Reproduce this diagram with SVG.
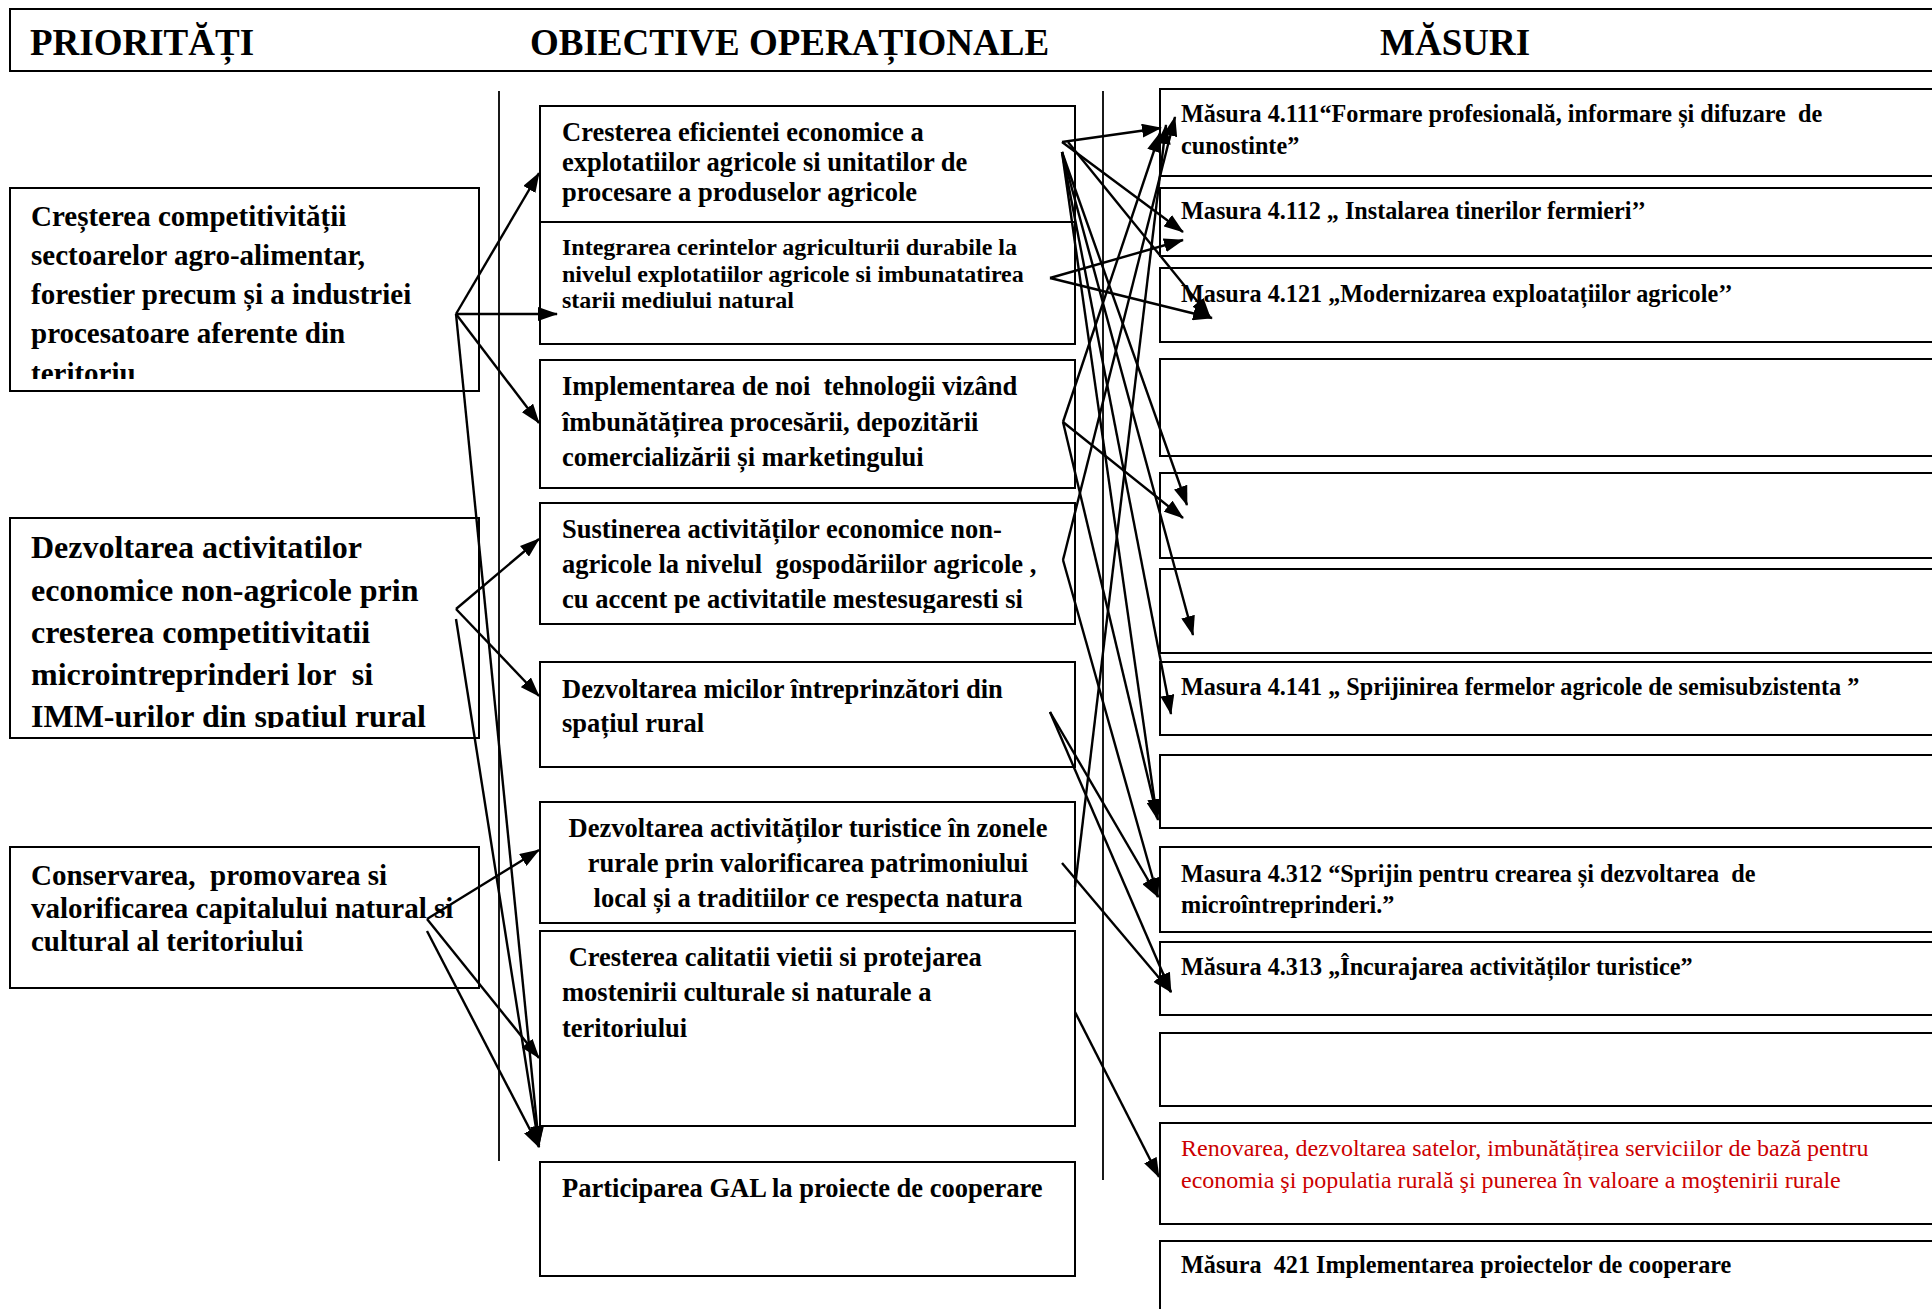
<svg xmlns="http://www.w3.org/2000/svg" width="1932" height="1309" viewBox="0 0 1932 1309">
<style>
.box{fill:#fff;stroke:#000;stroke-width:2}
.div{stroke:#000;stroke-width:1.8;fill:none}
text{font-family:"Liberation Serif","Times New Roman",serif;font-weight:bold;fill:#000;white-space:pre}
.hd{font-size:37px}
.pa{font-size:29px}
.pb{font-size:32px}
.m{font-size:26.5px}
.ms{font-size:24px}
.r{font-size:24.2px}
.red{font-size:24px;font-weight:normal;fill:#cc0000}
#connectors line{stroke:#000;stroke-width:2.4;marker-end:url(#ah)}
</style>
<defs>
<marker id="ah" markerWidth="20" markerHeight="14" refX="19" refY="7" orient="auto" markerUnits="userSpaceOnUse"><path d="M0,0 L20,7 L0,14 z" fill="#000"/></marker>
<clipPath id="cP1"><rect x="10" y="188" width="470" height="191"/></clipPath>
<clipPath id="cP2"><rect x="10" y="518" width="470" height="210"/></clipPath>
<clipPath id="cM4"><rect x="540" y="503" width="536" height="110"/></clipPath>
</defs>
<rect width="1932" height="1309" fill="#fff"/>

<g id="header">
<rect class="box" x="10" y="9" width="1940" height="62"/>
<text class="hd" x="30" y="55">PRIORITĂȚI</text>
<text class="hd" x="530" y="55">OBIECTIVE OPERAȚIONALE</text>
<text class="hd" x="1380" y="55">MĂSURI</text>
</g>

<g id="dividers">
<line class="div" x1="499" y1="91" x2="499" y2="1161"/>
<line class="div" x1="1103" y1="91" x2="1103" y2="1180"/>
</g>

<g id="p1">
<rect class="box" x="10" y="188" width="469" height="203"/>
<g clip-path="url(#cP1)">
<text class="pa" x="31" y="226">Creșterea competitivității</text>
<text class="pa" x="31" y="265">sectoarelor agro-alimentar,</text>
<text class="pa" x="31" y="304">forestier precum și a industriei</text>
<text class="pa" x="31" y="343">procesatoare aferente din</text>
<text class="pa" x="31" y="383">teritoriu</text>
</g>
</g>
<g id="p2">
<rect class="box" x="10" y="518" width="469" height="220"/>
<g clip-path="url(#cP2)">
<text class="pb" x="31" y="558">Dezvoltarea activitatilor</text>
<text class="pb" x="31" y="601">economice non-agricole prin</text>
<text class="pb" x="31" y="643">cresterea competitivitatii</text>
<text class="pb" x="31" y="685">microintreprinderi lor  si</text>
<text class="pb" x="31" y="727">IMM-urilor din spatiul rural</text>
</g>
</g>
<g id="p3">
<rect class="box" x="10" y="847" width="469" height="141"/>
<text class="pa" x="31" y="885">Conservarea,  promovarea si</text>
<text class="pa" x="31" y="918">valorificarea capitalului natural si</text>
<text class="pa" x="31" y="951">cultural al teritoriului</text>
</g>

<g id="m1">
<rect class="box" x="540" y="106" width="535" height="116"/>
<text class="m" x="562" y="141">Cresterea eficientei economice a</text>
<text class="m" x="562" y="171">explotatiilor agricole si unitatilor de</text>
<text class="m" x="562" y="201">procesare a produselor agricole</text>
</g>
<g id="m2">
<rect class="box" x="540" y="222" width="535" height="122"/>
<text class="ms" x="562" y="255">Integrarea cerintelor agriculturii durabile la</text>
<text class="ms" x="562" y="282">nivelul explotatiilor agricole si imbunatatirea</text>
<text class="ms" x="562" y="308">starii mediului natural</text>
</g>
<g id="m3">
<rect class="box" x="540" y="360" width="535" height="128"/>
<text class="m" x="562" y="395">Implementarea de noi  tehnologii vizând</text>
<text class="m" x="562" y="431">îmbunătățirea procesării, depozitării</text>
<text class="m" x="562" y="466">comercializării și marketingului</text>
</g>
<g id="m4">
<rect class="box" x="540" y="503" width="535" height="121"/>
<g clip-path="url(#cM4)">
<text class="m" x="562" y="538">Sustinerea activităților economice non-</text>
<text class="m" x="562" y="573">agricole la nivelul  gospodăriilor agricole ,</text>
<text class="m" x="562" y="608">cu accent pe activitatile mestesugaresti si</text>
</g>
</g>
<g id="m5">
<rect class="box" x="540" y="662" width="535" height="105"/>
<text class="m" x="562" y="698">Dezvoltarea micilor întreprinzători din</text>
<text class="m" x="562" y="732">spațiul rural</text>
</g>
<g id="m6">
<rect class="box" x="540" y="802" width="535" height="121"/>
<text class="m" x="808" y="837" text-anchor="middle">Dezvoltarea activităților turistice în zonele</text>
<text class="m" x="808" y="872" text-anchor="middle">rurale prin valorificarea patrimoniului</text>
<text class="m" x="808" y="907" text-anchor="middle">local și a traditiilor ce respecta natura</text>
</g>
<g id="m7">
<rect class="box" x="540" y="931" width="535" height="195"/>
<text class="m" x="562" y="966"> Cresterea calitatii vietii si protejarea</text>
<text class="m" x="562" y="1001">mostenirii culturale si naturale a</text>
<text class="m" x="562" y="1037">teritoriului</text>
</g>
<g id="m8">
<rect class="box" x="540" y="1162" width="535" height="114"/>
<text class="m" x="562" y="1197">Participarea GAL la proiecte de cooperare</text>
</g>

<g id="r1">
<rect class="box" x="1160" y="89" width="790" height="87"/>
<text class="r" x="1181" y="122">Măsura 4.111“Formare profesională, informare și difuzare  de</text>
<text class="r" x="1181" y="154">cunostinte”</text>
</g>
<g id="r2">
<rect class="box" x="1160" y="188" width="790" height="68"/>
<text class="r" x="1181" y="219">Masura 4.112 „ Instalarea tinerilor fermieri’’</text>
</g>
<g id="r3">
<rect class="box" x="1160" y="268" width="790" height="74"/>
<text class="r" x="1181" y="302">Masura 4.121 „Modernizarea exploatațiilor agricole’’</text>
</g>
<g id="r4"><rect class="box" x="1160" y="359" width="790" height="97"/></g>
<g id="r5"><rect class="box" x="1160" y="473" width="790" height="85"/></g>
<g id="r6"><rect class="box" x="1160" y="569" width="790" height="84"/></g>
<g id="r7">
<rect class="box" x="1160" y="662" width="790" height="73"/>
<text class="r" x="1181" y="695">Masura 4.141 „ Sprijinirea fermelor agricole de semisubzistenta ”</text>
</g>
<g id="r8"><rect class="box" x="1160" y="755" width="790" height="73"/></g>
<g id="r9">
<rect class="box" x="1160" y="847" width="790" height="85"/>
<text class="r" x="1181" y="882">Masura 4.312 “Sprijin pentru crearea și dezvoltarea  de</text>
<text class="r" x="1181" y="913">microîntreprinderi.”</text>
</g>
<g id="r10">
<rect class="box" x="1160" y="942" width="790" height="73"/>
<text class="r" x="1181" y="975">Măsura 4.313 „Încurajarea activităților turistice”</text>
</g>
<g id="r11"><rect class="box" x="1160" y="1033" width="790" height="73"/></g>
<g id="r12">
<rect class="box" x="1160" y="1123" width="790" height="101"/>
<text class="red" x="1181" y="1156">Renovarea, dezvoltarea satelor, imbunătățirea serviciilor de bază pentru</text>
<text class="red" x="1181" y="1188">economia şi populatia rurală şi punerea în valoare a moştenirii rurale</text>
</g>
<g id="r13">
<rect class="box" x="1160" y="1241" width="790" height="90"/>
<text class="r" x="1181" y="1273">Măsura  421 Implementarea proiectelor de cooperare</text>
</g>

<g id="connectors">
<line x1="456" y1="314" x2="539" y2="173"/>
<line x1="456" y1="314" x2="557" y2="314"/>
<line x1="456" y1="314" x2="539" y2="423"/>
<line x1="456" y1="314" x2="539" y2="1145"/>
<line x1="456" y1="609" x2="539" y2="539"/>
<line x1="456" y1="609" x2="539" y2="696"/>
<line x1="456" y1="619" x2="539" y2="1147"/>
<line x1="427" y1="919" x2="539" y2="850"/>
<line x1="427" y1="919" x2="539" y2="1058"/>
<line x1="427" y1="931" x2="539" y2="1147"/>

<line x1="1062" y1="142" x2="1161" y2="128"/>
<line x1="1062" y1="142" x2="1183" y2="232"/>
<line x1="1068" y1="142" x2="1210" y2="317"/>
<line x1="1062" y1="152" x2="1187" y2="505"/>
<line x1="1062" y1="152" x2="1193" y2="635"/>
<line x1="1062" y1="152" x2="1171" y2="714"/>
<line x1="1062" y1="152" x2="1157" y2="818"/>
<line x1="1050" y1="278" x2="1183" y2="240"/>
<line x1="1050" y1="278" x2="1212" y2="318"/>
<line x1="1063" y1="422" x2="1160" y2="133"/>
<line x1="1063" y1="422" x2="1183" y2="518"/>
<line x1="1063" y1="422" x2="1158" y2="820"/>
<line x1="1063" y1="560" x2="1175" y2="117"/>
<line x1="1063" y1="560" x2="1158" y2="897"/>
<line x1="1050" y1="712" x2="1158" y2="897"/>
<line x1="1050" y1="712" x2="1171" y2="992"/>
<line x1="1075" y1="887" x2="1166" y2="125"/>
<line x1="1062" y1="863" x2="1171" y2="992"/>
<line x1="1075" y1="1012" x2="1159" y2="1177"/>
</g>
</svg>
